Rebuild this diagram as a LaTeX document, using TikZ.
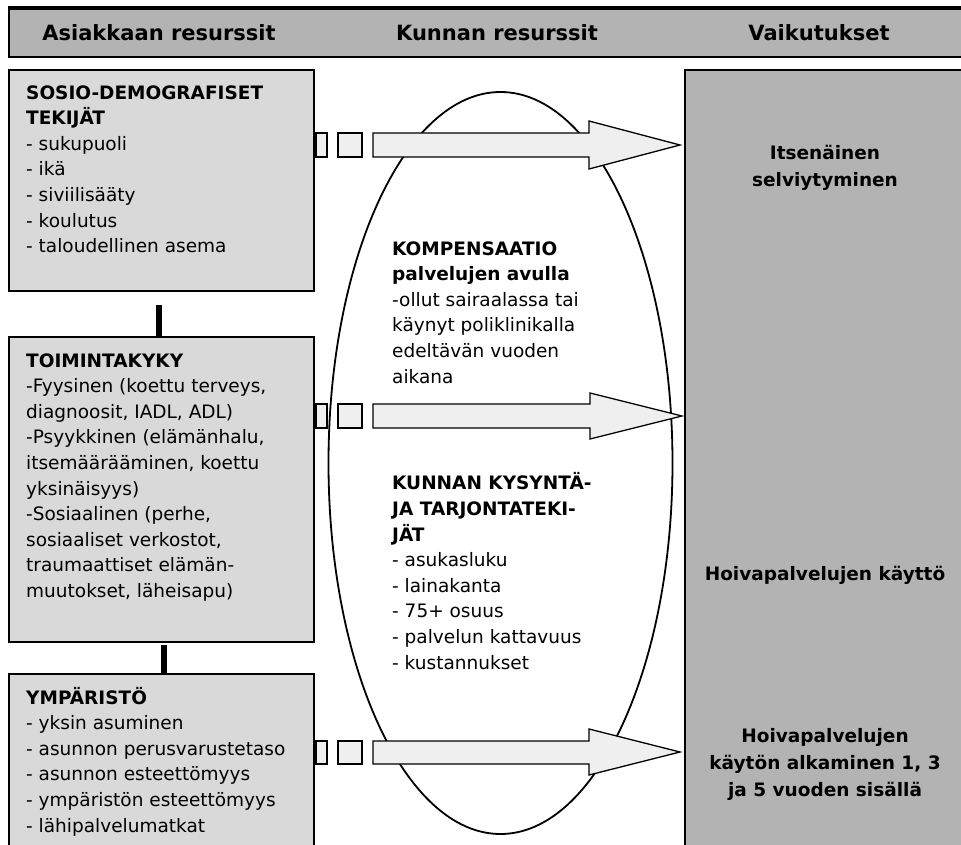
\documentclass[tikz,border=0pt]{standalone}
\usepackage{fontspec}
\setmainfont{DejaVu Sans}
\usetikzlibrary{shapes.geometric}
\definecolor{lightbox}{HTML}{D9D9D9}
\definecolor{darkbox}{HTML}{B3B3B3}
\definecolor{arrowfill}{HTML}{EFEFEF}
\begin{document}
\begin{tikzpicture}[x=1pt,y=-1pt,
  box/.style={draw=black, line width=1.6pt, fill=lightbox, rectangle, inner sep=0pt, anchor=north west},
  bigbox/.style={draw=black, line width=1.6pt, fill=darkbox, rectangle, inner sep=0pt, anchor=north west},
  txt/.style={inner sep=0pt, anchor=base west, align=left, font=\fontsize{18.5}{25.6}\selectfont},
  restxt/.style={inner sep=0pt, anchor=base, align=center, font=\bfseries\fontsize{18.5}{27}\selectfont},
  hdrtxt/.style={inner sep=0pt, anchor=base, font=\bfseries\fontsize{21}{25}\selectfont},
  conn/.style={line width=6pt, draw=black},
  blockarrow/.style={draw=black, line width=1.3pt, fill=arrowfill, line join=miter},
  oval/.style={draw=black, line width=1.8pt, ellipse, inner sep=0pt}
]
\clip (0,0) rectangle (961,845);
\fill[white] (0,0) rectangle (961,845);

% header bar
\node[bigbox, minimum width=970pt, minimum height=48pt, line width=1.8pt] (hdr) at (8,8) {};
\draw[line width=3pt] (hdr.north west) -- (hdr.north east);
\node[hdrtxt] (h1) at (159,41) {Asiakkaan resurssit};
\node[hdrtxt] (h2) at (497,41) {Kunnan resurssit};
\node[hdrtxt] (h3) at (819,41) {Vaikutukset};

% left boxes
\node[box, minimum width=305pt, minimum height=221pt] (b1) at (8,69) {};
\node[box, minimum width=305pt, minimum height=305pt] (b2) at (8,336) {};
\node[box, minimum width=305pt, minimum height=200pt] (b3) at (8,673) {};

\draw[conn] ([xshift=-2.5pt,yshift=-13pt]b1.south) -- ([xshift=-2.5pt]b2.north);
\draw[conn] ([xshift=2.5pt,yshift=-2pt]b2.south) -- ([xshift=2.5pt]b3.north);

% (anchor = baseline of the last line)
\node[txt] (t1) at (26,252.6) {\textbf{SOSIO-DEMOGRAFISET}\\\textbf{TEKIJÄT}\\- sukupuoli\\- ikä\\- siviilisääty\\- koulutus\\- taloudellinen asema};
\node[txt] (t2) at (26,597.4) {\textbf{TOIMINTAKYKY}\\-Fyysinen (koettu terveys,\\diagnoosit, IADL, ADL)\\-Psyykkinen (elämänhalu,\\itsemäärääminen, koettu\\yksinäisyys)\\-Sosiaalinen (perhe,\\sosiaaliset verkostot,\\traumaattiset elämän-\\muutokset, läheisapu)};
\node[txt] (t3) at (26,832) {\textbf{YMPÄRISTÖ}\\- yksin asuminen\\- asunnon perusvarustetaso\\- asunnon esteettömyys\\- ympäristön esteettömyys\\- lähipalvelumatkat};

% right box
\node[bigbox, minimum width=300pt, minimum height=800pt] (rb) at (684,69) {};
\node[restxt] (r1) at (825,187) {Itsenäinen\\selviytyminen};
\node[restxt] (r2) at (825,580) {Hoivapalvelujen käyttö};
\node[restxt] (r3) at (825,796) {Hoivapalvelujen\\käytön alkaminen 1, 3\\ja 5 vuoden sisällä};

% ellipse
\node[oval, minimum width=344pt, minimum height=742pt] (ell) at (500.5,463) {};
\node[txt] (e1) at (392,383) {\textbf{KOMPENSAATIO}\\\textbf{palvelujen avulla}\\-ollut sairaalassa tai\\käynyt poliklinikalla\\edeltävän vuoden\\aikana};
\node[txt] (e2) at (392,669) {\textbf{KUNNAN KYSYNTÄ-}\\\textbf{JA TARJONTATEKI-}\\\textbf{JÄT}\\- asukasluku\\- lainakanta\\- 75+ osuus\\- palvelun kattavuus\\- kustannukset};

% arrows
\coordinate (tip1) at (680,145);
\coordinate (tip2) at (682,416);
\coordinate (tip3) at (680,752);
\draw[blockarrow] (316,133) rectangle (327,157);
\draw[blockarrow] (338,133) rectangle (362,157);
\draw[blockarrow] (373,133) -- (589,133) -- (589,121) -- (tip1) -- (589,169) -- (589,157) -- (373,157) -- cycle;
\draw[blockarrow] (316,404) rectangle (327,428);
\draw[blockarrow] (338,404) rectangle (362,428);
\draw[blockarrow] (373,404) -- (590,404) -- (590,393) -- (tip2) -- (590,439) -- (590,428) -- (373,428) -- cycle;
\draw[blockarrow] (316,741) rectangle (327,764);
\draw[blockarrow] (338,741) rectangle (362,764);
\draw[blockarrow] (373,741) -- (589,741) -- (589,729) -- (tip3) -- (589,775) -- (589,764) -- (373,764) -- cycle;
\end{tikzpicture}
\end{document}
